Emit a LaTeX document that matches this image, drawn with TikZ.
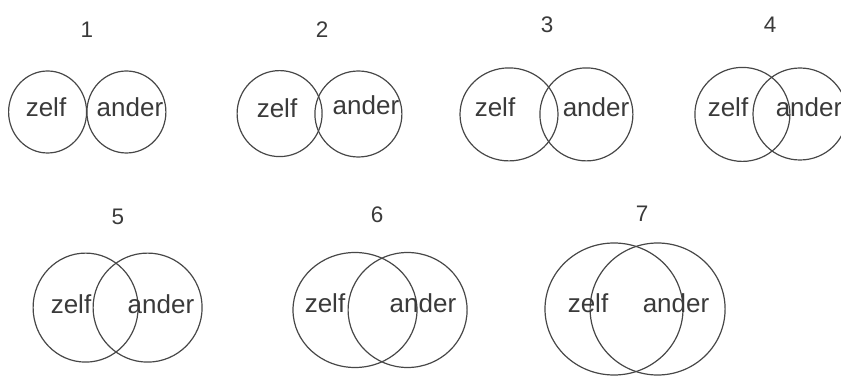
\documentclass[tikz,border=0pt]{standalone}
\usepackage{fontspec}
\setmainfont{Liberation Sans}
\usepackage{xcolor}
\usetikzlibrary{shapes.geometric}

\definecolor{inkline}{HTML}{474747}
\definecolor{inktext}{HTML}{3A3A3A}

\begin{document}
\begin{tikzpicture}[
  ring/.style={ellipse, draw=inkline, line width=0.85pt, inner sep=0pt},
  word/.style={anchor=base, inner sep=0pt, text=inktext, font=\fontsize{18.5}{20}\selectfont},
  num/.style={anchor=base, inner sep=0pt, text=inktext, font=\fontsize{16}{18}\selectfont},
]
\useasboundingbox (0,0) rectangle (21.025,-9.45);

% row 1
\node[num] (n1) at (2.175,-0.95)  {1};
\node[num] (n2) at (8.05,-0.95)   {2};
\node[num] (n3) at (13.675,-0.825) {3};
\node[num] (n4) at (19.25,-0.825) {4};

\node[ring, minimum width=1.95cm,  minimum height=2.05cm]  (z1) at (1.19,-2.80)   {};
\node[ring, minimum width=1.975cm, minimum height=2.05cm]  (a1) at (3.16,-2.80)   {};
\node[ring, minimum width=2.125cm, minimum height=2.15cm]  (z2) at (6.99,-2.84)   {};
\node[ring, minimum width=2.175cm, minimum height=2.15cm]  (a2) at (8.96,-2.85)   {};
\node[ring, minimum width=2.45cm,  minimum height=2.325cm] (z3) at (12.725,-2.86) {};
\node[ring, minimum width=2.325cm, minimum height=2.325cm] (a3) at (14.66,-2.86)  {};
\node[ring, minimum width=2.375cm, minimum height=2.35cm]  (z4) at (18.56,-2.86)  {};
\node[ring, minimum width=2.35cm,  minimum height=2.3cm]   (a4) at (20.0,-2.85)   {};

\node[word] (zt1) at (1.15,-2.925)   {zelf};
\node[word] (at1) at (3.25,-2.925)   {ander};
\node[word] (zt2) at (6.925,-2.95)   {zelf};
\node[word] (at2) at (9.15,-2.875)   {ander};
\node[word] (zt3) at (12.375,-2.925) {zelf};
\node[word] (at3) at (14.9,-2.925)   {ander};
\node[word] (zt4) at (18.2,-2.925)   {zelf};
\node[word] (at4) at (20.225,-2.925) {ander};

% row 2
\node[num] (n5) at (2.95,-5.625)  {5};
\node[num] (n6) at (9.425,-5.575) {6};
\node[num] (n7) at (16.05,-5.55)  {7};

\node[ring, minimum width=2.625cm, minimum height=2.725cm] (z5) at (2.14,-7.69)   {};
\node[ring, minimum width=2.725cm, minimum height=2.725cm] (a5) at (3.69,-7.69)   {};
\node[ring, minimum width=3.1cm,   minimum height=2.875cm] (z6) at (8.875,-7.75)  {};
\node[ring, minimum width=2.975cm, minimum height=2.875cm] (a6) at (10.19,-7.75)  {};
\node[ring, minimum width=3.45cm,  minimum height=3.3cm]   (z7) at (15.35,-7.725) {};
\node[ring, minimum width=3.375cm, minimum height=3.3cm]   (a7) at (16.44,-7.725) {};

\node[word] (zt5) at (1.775,-7.825) {zelf};
\node[word] (at5) at (4.025,-7.825) {ander};
\node[word] (zt6) at (8.125,-7.8)   {zelf};
\node[word] (at6) at (10.575,-7.8)  {ander};
\node[word] (zt7) at (14.7,-7.8)    {zelf};
\node[word] (at7) at (16.9,-7.8)    {ander};
\end{tikzpicture}
\end{document}
